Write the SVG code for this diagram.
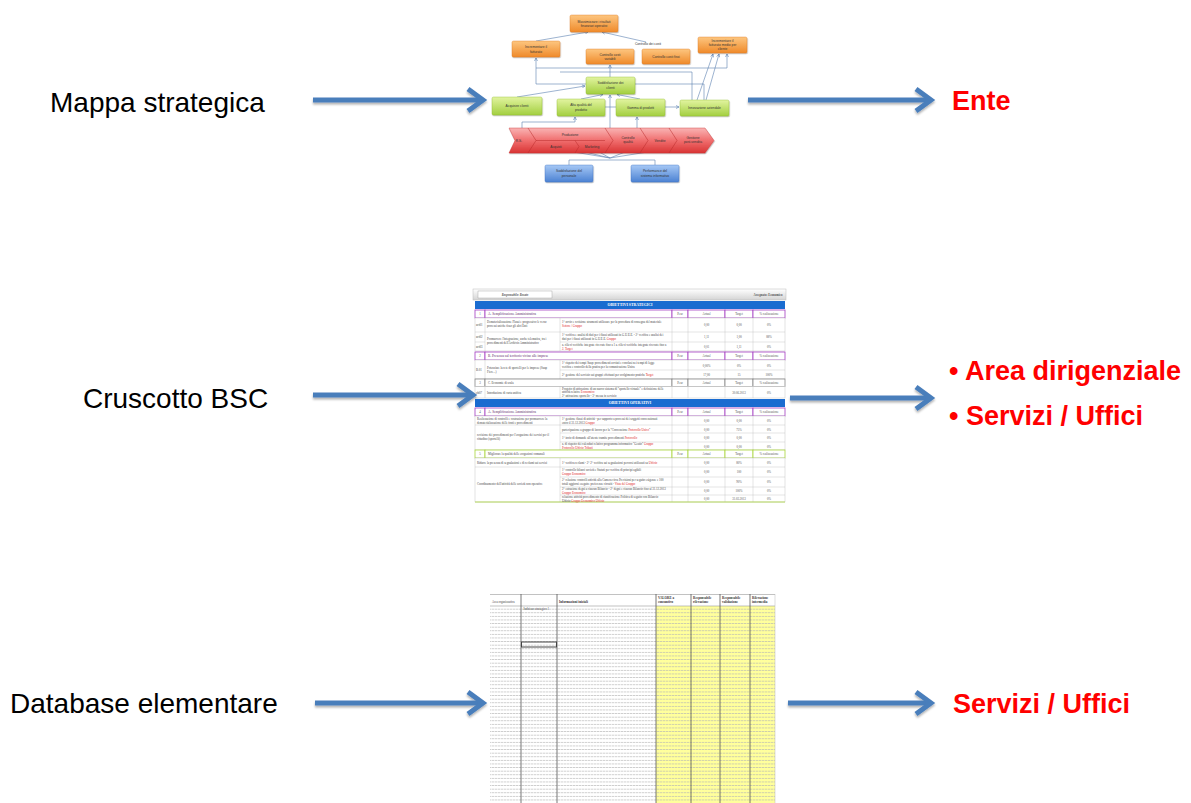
<svg xmlns="http://www.w3.org/2000/svg" width="1191" height="803" viewBox="0 0 1191 803">
<defs>
<linearGradient id="gOr" x1="0" y1="0" x2="0" y2="1"><stop offset="0" stop-color="#fdc680"/><stop offset="1" stop-color="#ef8a2a"/></linearGradient>
<linearGradient id="gGr" x1="0" y1="0" x2="0" y2="1"><stop offset="0" stop-color="#e2f4a0"/><stop offset="1" stop-color="#a3cf40"/></linearGradient>
<linearGradient id="gBl" x1="0" y1="0" x2="0" y2="1"><stop offset="0" stop-color="#a6c8f5"/><stop offset="1" stop-color="#4c82d3"/></linearGradient>
<linearGradient id="gRd" x1="0" y1="0" x2="0" y2="1"><stop offset="0" stop-color="#f9b4b4"/><stop offset="0.5" stop-color="#f06e6e"/><stop offset="1" stop-color="#d93434"/></linearGradient>
<linearGradient id="gHd" x1="0" y1="0" x2="0" y2="1"><stop offset="0" stop-color="#ffffff"/><stop offset="1" stop-color="#d4d4d4"/></linearGradient>
<pattern id="rows" x="0" y="606" width="6" height="3.6" patternUnits="userSpaceOnUse"><line x1="0" y1="3.2" x2="6" y2="3.2" stroke="#b4b4b4" stroke-width="0.7" stroke-dasharray="2.4,0.6"/></pattern>
<marker id="ah" viewBox="-20 -14 26 28" markerWidth="26" markerHeight="28" refX="0" refY="0" orient="auto" markerUnits="userSpaceOnUse"><path d="M-15,-11 L0,0 L-15,11" fill="none" stroke="#4a7ebb" stroke-width="5"/></marker>
<marker id="sm" viewBox="-4 -2 5 4" markerWidth="5" markerHeight="4" refX="0" refY="0" orient="auto" markerUnits="userSpaceOnUse"><path d="M-3,-1.5 L0,0 L-3,1.5" fill="none" stroke="#5b7fb0" stroke-width="0.6"/></marker>
<filter id="sh" filterUnits="userSpaceOnUse" x="0" y="0" width="1191" height="803"><feDropShadow dx="0" dy="2" stdDeviation="1.3" flood-color="#000" flood-opacity="0.3"/></filter>
<filter id="bs" x="-10%" y="-20%" width="120%" height="150%"><feDropShadow dx="0.5" dy="1" stdDeviation="0.6" flood-color="#000" flood-opacity="0.3"/></filter>
</defs>
<style>
.lbl{font-family:"Liberation Sans",Arial,sans-serif;font-size:28px;fill:#000}
.out{font-family:"Liberation Sans",Arial,sans-serif;font-size:27px;font-weight:bold;fill:#ff0000}
.arr{stroke:#4a7ebb;stroke-width:5;fill:none;marker-end:url(#ah);filter:url(#sh)}
.t{font-family:"Liberation Sans",Arial,sans-serif;font-size:3.3px;fill:#333;text-anchor:middle}
.ob{fill:url(#gOr);stroke:#dd7a20;stroke-width:0.4;filter:url(#bs)}
.gb{fill:url(#gGr);stroke:#8fbb30;stroke-width:0.4;filter:url(#bs)}
.bb{fill:url(#gBl);stroke:#3f72c0;stroke-width:0.4;filter:url(#bs)}
.cn{fill:none;stroke:#5b7fb0;stroke-width:0.6}
.cm{fill:none;stroke:#5b7fb0;stroke-width:0.6;marker-end:url(#sm)}
.s{font-family:"Liberation Serif","Times New Roman",serif;font-size:3px;fill:#444}
.sr{font-family:"Liberation Serif","Times New Roman",serif;font-size:3px;fill:#e02020}
.sc{font-family:"Liberation Serif","Times New Roman",serif;font-size:3px;fill:#555;text-anchor:middle}
.sh{font-family:"Liberation Serif","Times New Roman",serif;font-size:3.4px;fill:#5a2a6a}
.pu{fill:#fff;stroke:#a43cc0;stroke-width:0.8}
.gy{fill:#fff;stroke:#777;stroke-width:0.7}
.gn{fill:#fff;stroke:#a8d43a;stroke-width:0.8}
.cell{fill:#fff;stroke:#bbb;stroke-width:0.4}
.vl{stroke:#bbb;stroke-width:0.4}
.bar{fill:#1a6cd0}
.bt{font-family:"Liberation Serif","Times New Roman",serif;font-size:3.8px;font-weight:bold;fill:#fff;text-anchor:middle}
.dh{font-family:"Liberation Serif","Times New Roman",serif;font-size:3.3px;font-weight:bold;fill:#333}
.dl{stroke:#555;stroke-width:0.8}
</style>

<!-- Labels -->
<g id="lbl-mappa"><text class="lbl" x="50" y="112">Mappa strategica</text></g>
<g id="lbl-cruscotto"><text class="lbl" x="83" y="408">Cruscotto BSC</text></g>
<g id="lbl-database"><text class="lbl" x="10" y="713">Database elementare</text></g>

<g id="out-ente"><text class="out" x="952" y="110">Ente</text></g>
<g id="out-bsc">
<text class="out" x="949" y="380">• Area dirigenziale</text>
<text class="out" x="949" y="425">• Servizi / Uffici</text>
</g>
<g id="out-db"><text class="out" x="953" y="713">Servizi / Uffici</text></g>

<!-- Strategy map thumbnail -->
<g id="mappa">
<g id="mappa-lines">
<path class="cm" d="M536,41 L588,32"/>
<path class="cm" d="M646,42 L602,32"/>
<path class="cm" d="M536,84 V58"/>
<path class="cn" d="M536,84 H586"/>
<path class="cn" d="M536,68 H727"/>
<path class="cm" d="M727,68 V54"/>
<path class="cm" d="M610,77 V65"/>
<path class="cn" d="M560,72 H692 V100"/>
<path class="cn" d="M635,84 H704 V100"/>
<path class="cm" d="M697,100 L713,54"/>
<path class="cm" d="M706,100 L719,54"/>
<path class="cm" d="M517,97 L585,86"/>
<path class="cm" d="M581,99 L603,94.5"/>
<path class="cm" d="M640,99 L617,94.5"/>
<path class="cm" d="M610,134 V95"/>
<path class="cm" d="M605,107 H679"/>
<path class="cm" d="M522,132 V122 H575 V117"/>
<path class="cm" d="M637,134 V117"/>
<path class="cn" d="M610,158 L525,144 M610,158 L560,146 M610,158 L592,148 M610,158 L640,146 M610,158 L660,150"/>
<path class="cn" d="M569,165 V160 H655 V165"/>
</g>
<g id="n-top"><rect class="ob" x="570" y="15" width="48" height="17" rx="1.5"/><text class="t" x="594" y="22.5">Massimizzare i risultati</text><text class="t" x="594" y="27">finanziari operativi</text></g>
<g id="n-inc"><rect class="ob" x="512" y="41" width="48" height="16" rx="1.5"/><text class="t" x="536" y="48">Incrementare il</text><text class="t" x="536" y="52.5">fatturato</text></g>
<g id="n-costi"><text class="t" x="648" y="45">Controllo dei costi</text></g>
<g id="n-ccv"><rect class="ob" x="586" y="49" width="48" height="15" rx="1.5"/><text class="t" x="610" y="55.5">Controllo costi</text><text class="t" x="610" y="60">variabili</text></g>
<g id="n-ccf"><rect class="ob" x="642" y="49" width="48" height="15" rx="1.5"/><text class="t" x="666" y="57.5">Controllo costi fissi</text></g>
<g id="n-incm"><rect class="ob" x="698" y="37" width="49" height="16" rx="1.5"/><text class="t" x="722.5" y="42">Incrementare il</text><text class="t" x="722.5" y="46">fatturato medio per</text><text class="t" x="722.5" y="50">cliente</text></g>
<g id="n-sod"><rect class="gb" x="586" y="77" width="49" height="17" rx="1.5"/><text class="t" x="610.5" y="84">Soddisfazione dei</text><text class="t" x="610.5" y="88.5">clienti</text></g>
<g id="n-acq"><rect class="gb" x="492" y="97" width="50" height="18" rx="1.5"/><text class="t" x="517" y="107">Acquisire clienti</text></g>
<g id="n-alta"><rect class="gb" x="557" y="99" width="48" height="17" rx="1.5"/><text class="t" x="581" y="106">Alta qualità del</text><text class="t" x="581" y="110.5">prodotto</text></g>
<g id="n-gamma"><rect class="gb" x="616" y="99" width="49" height="17" rx="1.5"/><text class="t" x="640.5" y="108.5">Gamma di prodotti</text></g>
<g id="n-inn"><rect class="gb" x="680" y="100" width="49" height="16" rx="1.5"/><text class="t" x="704.5" y="109">Innovazione aziendale</text></g>
<g id="n-band">
<polygon points="509,128 705,128 714,140.5 705,153 509,153 515,140.5" fill="url(#gRd)" stroke="#c83030" stroke-width="0.4" filter="url(#bs)"/>
<path d="M528,128 L536,140.5 L528,153 M605,128 L613,140.5 L605,153 M640,128 L648,140.5 L640,153 M669,128 L677,140.5 L669,153 M536,140.5 H605 M575,140.5 L579,146.5 L575,153" fill="none" stroke="#b82a2a" stroke-width="0.5"/>
<text class="t" x="519" y="142">R.S.</text>
<text class="t" x="570" y="136">Produzione</text>
<text class="t" x="556" y="148">Acquisti</text>
<text class="t" x="592" y="148">Marketing</text>
<text class="t" x="628" y="139">Controllo</text><text class="t" x="628" y="143">qualità</text>
<text class="t" x="660" y="141.5">Vendite</text>
<text class="t" x="693" y="138.5">Gestione</text><text class="t" x="693" y="142.5">post-vendita</text>
</g>
<g id="n-sp"><rect class="bb" x="545" y="165" width="48" height="17" rx="1.5"/><text class="t" x="569" y="172">Soddisfazione del</text><text class="t" x="569" y="176.5">personale</text></g>
<g id="n-psi"><rect class="bb" x="631" y="165" width="48" height="17" rx="1.5"/><text class="t" x="655" y="172">Performance del</text><text class="t" x="655" y="176.5">sistema informativo</text></g>
</g>

<!-- BSC dashboard thumbnail -->
<g id="cruscotto">
<rect x="473" y="289" width="313" height="11" fill="url(#gHd)" stroke="#bbb" stroke-width="0.5"/>
<rect x="478" y="291" width="74" height="7" fill="#fff" stroke="#999" stroke-width="0.4"/>
<text class="sc" x="515" y="295.8" font-style="italic" font-weight="bold">Responsabile: Rosato</text>
<text class="sc" x="768" y="295.8" font-weight="bold">Assegnato: Economico</text>

<rect class="bar" x="475" y="301" width="310" height="8"/>
<text class="bt" x="630" y="306.4">OBIETTIVI STRATEGICI</text>

<!-- section 1 -->
<rect class="pu" x="475" y="310" width="10" height="8"/><rect class="pu" x="485" y="310" width="187" height="8"/><rect class="pu" x="672" y="310" width="16" height="8"/><rect class="pu" x="688" y="310" width="37" height="8"/><rect class="pu" x="725" y="310" width="28" height="8"/><rect class="pu" x="753" y="310" width="32" height="8"/>
<text class="sc" x="480" y="315.3">1</text><text class="sh" x="488" y="315.3">A. Semplificazione Amministrativa</text><text class="sc" x="680" y="315.3">Peso</text><text class="sc" x="706.5" y="315.3">Actual</text><text class="sc" x="739" y="315.3">Target</text><text class="sc" x="769" y="315.3">% realizzazione</text>
<rect class="cell" x="475" y="318" width="310" height="33"/>
<path class="vl" d="M485,318V351 M560,318V351 M672,318V351 M688,318V351 M725,318V351 M753,318V351 M475,332H485 M560,332H785 M475,342H485 M485,332H560 M560,342H785"/>
<text class="s" x="476" y="326">act01</text><text class="s" x="476" y="338">act02</text><text class="s" x="476" y="347.5">act03</text>
<text class="s" x="487" y="323">Dematerializzazione Flussi e progressivo le verso</text><text class="s" x="487" y="327">processi uniche fisso gli altri Enti</text>
<text class="s" x="487" y="340">Promuovere l'integrazione, anche telematica, tra i</text><text class="s" x="487" y="344">procedimenti dell'Archivio Amministrativo</text>
<text class="s" x="562" y="323">1° avvio e revisione strumenti utilizzare per la procedura di consegna del materiale</text><text class="sr" x="562" y="327">Settore / Gruppo</text>
<text class="s" x="562" y="336">1° verifica e analisi di dati per i flussi utilizzati in G.U.E.E. - 2° verifica e analisi dei</text><text class="s" x="562" y="340">dati per i flussi utilizzati in G.U.E.E. <tspan fill="#e02020">Gruppo</tspan></text>
<text class="s" x="562" y="345.5">a. rilievi verifiche integrate ricevute fino a 1 a. rilievi verifiche integrate ricevute fino a</text><text class="sr" x="562" y="349.5">2. Target</text>
<text class="sc" x="706.5" y="326">0,00</text><text class="sc" x="739" y="326">0,00</text><text class="sc" x="769" y="326">0%</text>
<text class="sc" x="706.5" y="338">1,11</text><text class="sc" x="739" y="338">1,00</text><text class="sc" x="769" y="338">88%</text>
<text class="sc" x="706.5" y="347.5">0,01</text><text class="sc" x="739" y="347.5">1,11</text><text class="sc" x="769" y="347.5">0%</text>

<!-- section 2 -->
<rect class="pu" x="475" y="352" width="10" height="8"/><rect class="pu" x="485" y="352" width="187" height="8"/><rect class="pu" x="672" y="352" width="16" height="8"/><rect class="pu" x="688" y="352" width="37" height="8"/><rect class="pu" x="725" y="352" width="28" height="8"/><rect class="pu" x="753" y="352" width="32" height="8"/>
<text class="sc" x="480" y="357.3">2</text><text class="sh" x="488" y="357.3">B. Presenza sul territorio vicino alle imprese</text><text class="sc" x="680" y="357.3">Peso</text><text class="sc" x="706.5" y="357.3">Actual</text><text class="sc" x="739" y="357.3">Target</text><text class="sc" x="769" y="357.3">% realizzazione</text>
<rect class="cell" x="475" y="360" width="310" height="19"/>
<path class="vl" d="M485,360V379 M560,360V379 M672,360V379 M688,360V379 M725,360V379 M753,360V379 M560,370H785"/>
<text class="s" x="476" y="371">B.01</text>
<text class="s" x="487" y="369">Potenziare la rete di sportelli per le imprese (Suap</text><text class="s" x="487" y="373">Fiere...)</text>
<text class="s" x="562" y="364" fill="#888">1° rispetto dei tempi Suap: procedimenti avviati e conclusi nei tempi di legge</text><text class="s" x="562" y="368" fill="#888">verifica e controllo della pratica per la comunicazione Unica</text>
<text class="s" x="562" y="375.5" fill="#888">2° gestione del servizio sui gruppi effettuati per svolgimento pratiche <tspan fill="#e02020">Target</tspan></text>
<text class="sc" x="706.5" y="366.5">0,00%</text><text class="sc" x="739" y="366.5">0%</text><text class="sc" x="769" y="366.5">0%</text>
<text class="sc" x="706.5" y="375.5">17,00</text><text class="sc" x="739" y="375.5">15</text><text class="sc" x="769" y="375.5">100%</text>

<!-- section 3 -->
<rect class="gy" x="475" y="379" width="10" height="7.5"/><rect class="gy" x="485" y="379" width="187" height="7.5"/><rect class="gy" x="672" y="379" width="16" height="7.5"/><rect class="gy" x="688" y="379" width="37" height="7.5"/><rect class="gy" x="725" y="379" width="28" height="7.5"/><rect class="gy" x="753" y="379" width="32" height="7.5"/>
<text class="sc" x="480" y="384">3</text><text class="s" x="488" y="384" fill="#777">C. Economie di scala</text><text class="sc" x="680" y="384">Peso</text><text class="sc" x="706.5" y="384">Actual</text><text class="sc" x="739" y="384">Target</text><text class="sc" x="769" y="384">% realizzazione</text>
<rect class="cell" x="475" y="386.5" width="310" height="11.5"/>
<path class="vl" d="M485,386.5V398 M560,386.5V398 M672,386.5V398 M688,386.5V398 M725,386.5V398 M753,386.5V398"/>
<text class="s" x="476" y="393.5">ob07</text><text class="s" x="487" y="393.5">Introduzione di carta unifica</text>
<text class="s" x="562" y="389.5">Progetto di attivazione di un nuovo sistema di "sportello virtuale" e definizione delle</text><text class="s" x="562" y="393">attività relative <tspan fill="#e02020">Economico</tspan></text><text class="s" x="562" y="396.5">2° attivazione sportello - 3° messa in servizio</text>
<text class="sc" x="739" y="393.5">30.06.2013</text><text class="sc" x="769" y="393.5">0%</text>

<rect class="bar" x="475" y="399" width="310" height="8"/>
<text class="bt" x="630" y="404.4">OBIETTIVI OPERATIVI</text>

<!-- section 4 -->
<rect class="pu" x="475" y="408" width="10" height="8"/><rect class="pu" x="485" y="408" width="187" height="8"/><rect class="pu" x="672" y="408" width="16" height="8"/><rect class="pu" x="688" y="408" width="37" height="8"/><rect class="pu" x="725" y="408" width="28" height="8"/><rect class="pu" x="753" y="408" width="32" height="8"/>
<text class="sc" x="480" y="413.3">4</text><text class="sh" x="488" y="413.3">A. Semplificazione Amministrativa</text><text class="sc" x="680" y="413.3">Peso</text><text class="sc" x="706.5" y="413.3">Actual</text><text class="sc" x="739" y="413.3">Target</text><text class="sc" x="769" y="413.3">% realizzazione</text>
<rect class="cell" x="475" y="416" width="310" height="34"/>
<path class="vl" d="M560,416V450 M672,416V450 M688,416V450 M725,416V450 M753,416V450 M475,425H785 M560,433H785 M560,442H785"/>
<text class="s" x="477" y="420">Realizzazione di controlli e costruzione per promuovere la</text><text class="s" x="477" y="424">dematerializzazione delle fonti e procedimenti</text>
<text class="s" x="477" y="436">revisione dei procedimenti per l'erogazione dei servizi per il</text><text class="s" x="477" y="440">cittadino (sportelli)</text>
<text class="s" x="562" y="420">1° gestione flussi di attività - per supporto a processi dei soggetti convenzionati</text><text class="s" x="562" y="424">entro il 31.12.2013 <tspan fill="#e02020">Gruppo</tspan></text>
<text class="s" x="562" y="430.5">partecipazione a gruppo di lavoro per la "Convenzione <tspan fill="#e02020">Protocollo Unico</tspan>"</text>
<text class="s" x="562" y="439">1° invio di domande all'utente tramite procedimenti <tspan fill="#e02020">Protocollo</tspan></text>
<text class="s" x="562" y="445">a. di rispetto dei calendari relativo programma informatico "Gestio" <tspan fill="#e02020">Gruppo</tspan></text><text class="sr" x="562" y="448.8">Protocollo Ufficio Tributi</text>
<text class="sc" x="706.5" y="422">0,00</text><text class="sc" x="739" y="422">0,00</text><text class="sc" x="769" y="422">0%</text>
<text class="sc" x="706.5" y="430.5">0,00</text><text class="sc" x="739" y="430.5">75%</text><text class="sc" x="769" y="430.5">0%</text>
<text class="sc" x="706.5" y="439">0,00</text><text class="sc" x="739" y="439">0,00</text><text class="sc" x="769" y="439">0%</text>
<text class="sc" x="706.5" y="447.5">0,00</text><text class="sc" x="739" y="447.5">0,00</text><text class="sc" x="769" y="447.5">0%</text>

<!-- section 5 -->
<rect class="gn" x="475" y="450" width="10" height="8"/><rect class="gn" x="485" y="450" width="187" height="8"/><rect class="gn" x="672" y="450" width="16" height="8"/><rect class="gn" x="688" y="450" width="37" height="8"/><rect class="gn" x="725" y="450" width="28" height="8"/><rect class="gn" x="753" y="450" width="32" height="8"/>
<text class="sc" x="480" y="455.3">5</text><text class="s" x="488" y="455.3" font-size="3.4">Migliorare la qualità delle erogazioni comunali</text><text class="sc" x="680" y="455.3">Peso</text><text class="sc" x="706.5" y="455.3">Actual</text><text class="sc" x="739" y="455.3">Target</text><text class="sc" x="769" y="455.3">% realizzazione</text>
<rect class="cell" x="475" y="458" width="310" height="44"/>
<path class="vl" d="M560,458V502 M672,458V502 M688,458V502 M725,458V502 M753,458V502 M475,467H785 M560,477H785 M560,487H785 M560,495H785"/>
<path d="M475,502H785" stroke="#a8d43a" stroke-width="0.8"/>
<text class="s" x="477" y="463.5">Ridurre la presenza di segnalazioni e di reclami sui servizi</text>
<text class="s" x="477" y="485">Coordinamento dell'attività delle società non operative</text>
<text class="s" x="562" y="463.5">1° verifica reclami - 2° 2° verifica sui segnalazioni percorsi utilizzati su <tspan fill="#e02020">Ufficio</tspan></text>
<text class="s" x="562" y="471">1° controllo bilanci società e Statuti per verifica di principi agibili</text><text class="sr" x="562" y="475">Gruppo Economico</text>
<text class="s" x="562" y="480.5">2° relazione controlli attività alla Camera circa Previsioni per seguito esigenze e 100</text><text class="s" x="562" y="484.5">totali aggiorni eseguire preferenze circuiti - <tspan fill="#e02020">Vista del Gruppo</tspan></text>
<text class="s" x="562" y="490">2° estrazione degni a ciascun Bilancio - 2° degni e ciascun Bilancio fino al 31.12.2013</text><text class="sr" x="562" y="494">Gruppo Economico</text>
<text class="s" x="562" y="498">relazione attività procedimento di riunificazione Politica di seguito con Bilancio</text><text class="s" x="562" y="501.5">Ufficio <tspan fill="#e02020">Gruppo Economico Ufficio</tspan></text>
<text class="sc" x="706.5" y="463.5">0,00</text><text class="sc" x="739" y="463.5">80%</text><text class="sc" x="769" y="463.5">0%</text>
<text class="sc" x="706.5" y="473">0,00</text><text class="sc" x="739" y="473">100</text><text class="sc" x="769" y="473">0%</text>
<text class="sc" x="706.5" y="483">0,00</text><text class="sc" x="739" y="483">90%</text><text class="sc" x="769" y="483">0%</text>
<text class="sc" x="706.5" y="492">0,00</text><text class="sc" x="739" y="492">100%</text><text class="sc" x="769" y="492">0%</text>
<text class="sc" x="706.5" y="499.5">0,00</text><text class="sc" x="739" y="499.5">31.03.2013</text><text class="sc" x="769" y="499.5">0%</text>
</g>

<!-- Elementary database thumbnail -->
<g id="database">
<rect x="490" y="594" width="285" height="209" fill="#fff"/>
<rect x="656" y="606" width="119" height="197" fill="#ffff9c"/>
<rect x="490" y="606" width="285" height="197" fill="url(#rows)"/>
<path d="M490,594.5H775 M490,606H775" stroke="#999" stroke-width="0.6"/>
<path class="dl" d="M521,594V803 M557,594V803 M656,594V803 M691,594V803 M720,594V803 M750,594V803"/>
<path d="M775,594V803" stroke="#bbb" stroke-width="0.5"/>
<rect x="521.5" y="642" width="35" height="5" fill="none" stroke="#444" stroke-width="1"/>
<text class="s" x="492" y="603">Area organizzativa</text>
<text class="s" x="523.5" y="609.7" font-size="2.8">Indirizzo strategico 1</text>
<text class="dh" x="559" y="603">Informazioni iniziali</text>
<text class="dh" x="658" y="598.6">VALORE a</text><text class="dh" x="658" y="603.3">consuntivo</text>
<text class="dh" x="693" y="598.6">Responsabile</text><text class="dh" x="693" y="603.3">rilevazione</text>
<text class="dh" x="722" y="598.6">Responsabile</text><text class="dh" x="722" y="603.3">validazione</text>
<text class="dh" x="752" y="598.6">Rilevazione</text><text class="dh" x="752" y="603.3">intermedia</text>
</g>

<!-- Connectors -->
<g id="connectors">
<line class="arr" x1="313" y1="100" x2="483" y2="100"/>
<line class="arr" x1="748" y1="100" x2="931" y2="100"/>
<line class="arr" x1="313" y1="395" x2="473" y2="395"/>
<line class="arr" x1="790" y1="398" x2="931" y2="398"/>
<line class="arr" x1="315" y1="703" x2="483" y2="703"/>
<line class="arr" x1="788" y1="703" x2="931" y2="703"/>
</g>
</svg>
